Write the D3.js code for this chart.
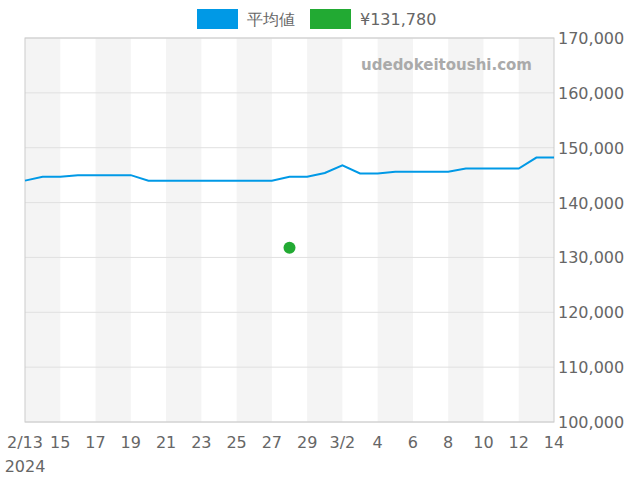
<!DOCTYPE html><html><head><meta charset="utf-8"><script src="https://cdn.jsdelivr.net/npm/d3@7"></script>
<style>body{margin:0;background:#fff}text{font-family:"DejaVu Sans",sans-serif}</style></head><body><svg id="c" width="640" height="480"></svg>
<script>
const dates=["2024-02-13","2024-02-14","2024-02-15","2024-02-16","2024-02-17","2024-02-18","2024-02-19","2024-02-20","2024-02-21","2024-02-22","2024-02-23","2024-02-24","2024-02-25","2024-02-26","2024-02-27","2024-02-28","2024-02-29","2024-03-01","2024-03-02","2024-03-03","2024-03-04","2024-03-05","2024-03-06","2024-03-07","2024-03-08","2024-03-09","2024-03-10","2024-03-11","2024-03-12","2024-03-13","2024-03-14"];
const avg=[144000,144700,144700,145000,145000,145000,145000,144000,144000,144000,144000,144000,144000,144000,144000,144700,144700,145400,146800,145300,145300,145600,145600,145600,145600,146200,146200,146200,146200,148200,148200];
const pointDate="2024-02-28", pointVal=131780;
const yTicks=[100000,110000,120000,130000,140000,150000,160000,170000];
const legendLabels=["平均値","¥131,780"];
const pd=d3.timeParse("%Y-%m-%d");
const svg=d3.select("#c");
const L=25,R=554,T=38,B=422;
const x=d3.scaleTime().domain([pd(dates[0]),pd(dates[dates.length-1])]).range([L,R]);
const y=d3.scaleLinear().domain([100000,170000]).range([B,T]);
for(let i=0;i<dates.length-1;i+=4){
  const a=pd(dates[i]), b=pd(dates[Math.min(i+2,dates.length-1)]);
  svg.append("rect").attr("x",x(a)).attr("y",T).attr("width",x(b)-x(a)).attr("height",B-T).attr("fill","#f4f4f4");
}
yTicks.forEach(v=>{
  svg.append("line").attr("x1",L).attr("x2",R).attr("y1",y(v)).attr("y2",y(v)).attr("stroke","#e0e0e0");
  svg.append("text").attr("x",R+4).attr("y",y(v)+6).attr("font-size",16).attr("fill","#666").text(d3.format(",")(v));
});
svg.append("rect").attr("x",L).attr("y",T).attr("width",R-L).attr("height",B-T).attr("fill","none").attr("stroke","#ccc");
dates.forEach((d,i)=>{ if(i%2) return;
  const dt=pd(d); const lab=(i==0||dt.getDate()==2&&dt.getMonth()==2)?d3.timeFormat("%-m/%-d")(dt):dt.getDate();
  svg.append("text").attr("x",x(dt)).attr("y",448).attr("text-anchor","middle").attr("font-size",16).attr("fill","#666").text(lab);
});
svg.append("text").attr("x",25).attr("y",472).attr("text-anchor","middle").attr("font-size",16).attr("fill","#666").text("2024");
svg.append("text").attr("x",532).attr("y",70).attr("text-anchor","end").attr("font-size",15).attr("font-weight","bold").attr("fill","#aaa").text("udedokeitoushi.com");
svg.append("path").datum(avg).attr("fill","none").attr("stroke","#0099e6").attr("stroke-width",2)
 .attr("d",d3.line().x((d,i)=>x(pd(dates[i]))).y(d=>y(d)));
svg.append("circle").attr("cx",x(pd(pointDate))).attr("cy",y(pointVal)).attr("r",6).attr("fill","#22aa33");
const lg=[["#0099e6",legendLabels[0],197],["#22aa33",legendLabels[1],310]];
lg.forEach(([c,t,lx])=>{
  svg.append("rect").attr("x",lx).attr("y",9).attr("width",41).attr("height",20).attr("fill",c);
  svg.append("text").attr("x",lx+50).attr("y",25).attr("font-size",16).attr("fill","#666").text(t);
});
</script></body></html>
